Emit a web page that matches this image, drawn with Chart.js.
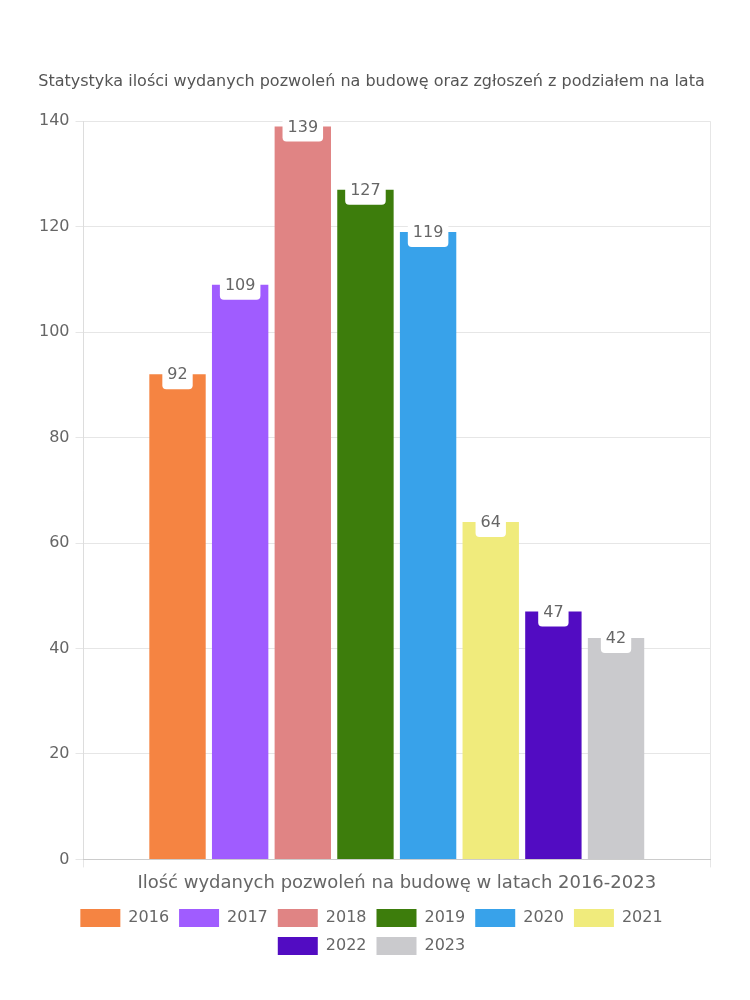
<!DOCTYPE html>
<html>
<head>
<meta charset="utf-8">
<script src="https://cdn.jsdelivr.net/npm/chart.js@4"></script>
<style>
  html, body { margin: 0; padding: 0; background: #fff; }
  #wrap { width: 750px; height: 1000px; position: relative; }
</style>
</head>
<body>
<div id="wrap"><canvas id="chart"></canvas></div>
<script>
const category = 'Ilość wydanych pozwoleń na budowę w latach 2016-2023';
const years = ['2016', '2017', '2018', '2019', '2020', '2021', '2022', '2023'];
const permits = [92, 109, 139, 127, 119, 64, 47, 42];
const colors = ['#f58442', '#a05cff', '#e08484', '#3d7d0c', '#38a2ea', '#f0eb7c', '#520cc2', '#cacacd'];
const yTicks = [0, 20, 40, 60, 80, 100, 120, 140];

const FONT = '"DejaVu Sans", sans-serif';

// white rounded label sitting on top of every bar
const valueLabels = {
    id: 'valueLabels',
    afterDatasetsDraw(chart) {
        const ctx = chart.ctx;
        ctx.save();
        ctx.font = '16px ' + FONT;
        ctx.textAlign = 'center';
        ctx.textBaseline = 'middle';
        chart.data.datasets.forEach((ds, i) => {
            const bar = chart.getDatasetMeta(i).data[0];
            const txt = String(ds.data[0]);
            const w = ctx.measureText(txt).width + 10;
            const top = bar.y - 11, h = 26;
            ctx.fillStyle = '#fff';
            ctx.beginPath();
            ctx.roundRect(bar.x - w / 2, top, w, h, 4);
            ctx.fill();
            ctx.fillStyle = '#666';
            ctx.fillText(txt, bar.x, bar.y + 1);
        });
        ctx.restore();
    }
};

new Chart(document.getElementById('chart'), {
    type: 'bar',
    data: {
        labels: [category],
        datasets: years.map((y, i) => ({
            label: y,
            data: [permits[i]],
            backgroundColor: colors[i]
        }))
    },
    options: {
        responsive: true,
        maintainAspectRatio: false,
        animation: false,
        layout: { padding: { top: 72, right: 40, left: 33, bottom: 35 } },
        plugins: {
            title: {
                display: true,
                text: 'Statystyka ilości wydanych pozwoleń na budowę oraz zgłoszeń z podziałem na lata',
                color: '#555',
                font: { family: FONT, size: 16, weight: 'normal' },
                padding: { top: 0, bottom: 30 }
            },
            legend: {
                position: 'bottom',
                labels: {
                    boxWidth: 40,
                    boxHeight: 18,
                    color: '#666',
                    font: { family: FONT, size: 16 },
                    padding: 10
                }
            },
            tooltip: { enabled: false }
        },
        scales: {
            y: {
                min: 0,
                max: 140,
                afterBuildTicks: axis => { axis.ticks = yTicks.map(v => ({ value: v })); },
                grid: { color: '#e6e6e6' },
                border: { color: '#ddd' },
                ticks: { color: '#666', font: { family: FONT, size: 16 }, padding: 6 }
            },
            x: {
                grid: { color: '#e6e6e6' },
                border: { color: '#ccc' },
                ticks: { color: '#666', font: { family: FONT, size: 18 }, padding: 5 }
            }
        }
    },
    plugins: [valueLabels]
});
</script>
</body>
</html>
